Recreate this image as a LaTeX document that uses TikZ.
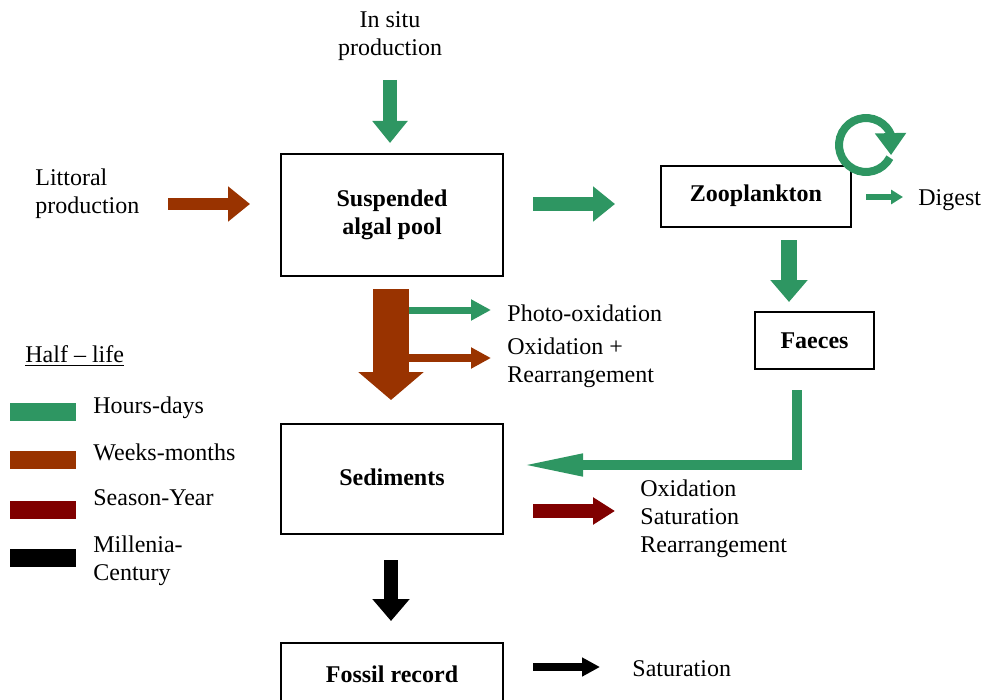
\documentclass[tikz,border=0pt]{standalone}
\usepackage{fontspec}
\setmainfont{Liberation Serif}
\usetikzlibrary{arrows.meta,bending}
\definecolor{hours}{RGB}{46,150,98}
\definecolor{weeks}{RGB}{153,51,0}
\definecolor{season}{RGB}{128,0,0}
\definecolor{millenia}{RGB}{0,0,0}
\tikzstyle{every node}=[font=\fontsize{12}{14}\selectfont]
\tikzstyle{txt}=[inner sep=0pt, align=left, anchor=west]
\tikzstyle{stage}=[draw, line width=0.75pt, inner sep=0pt, align=center, font=\fontsize{12}{14}\selectfont\bfseries]
\tikzstyle{swatch}=[inner sep=0pt, minimum width=33pt, minimum height=9pt]
\tikzset{
    flow/.style={line width=7pt, -{Triangle[width=17pt,length=11pt]}},
    thin flow/.style={line width=3.5pt, -{Triangle[width=10pt,length=10pt]}}
}

\begin{document}
\begin{tikzpicture}[x=0.5pt, y=-0.5pt]
            \useasboundingbox (0,0) rectangle (984,700);

            \node[align=center, inner sep=0pt] (insitu) at (390,36) {In situ\\production};
            \node[txt] (littoral) at (35,194) {Littoral\\production};

            \node[stage, minimum width=111pt, minimum height=61pt] (pool) at (392,215) {Suspended\\algal pool};
            \node[stage, minimum width=95pt, minimum height=30.5pt] (zoo) at (756,196.5) {\raisebox{3pt}{Zooplankton}};
            \node[txt] (digest) at (918,200) {Digest};
            \node[stage, minimum width=59.5pt, minimum height=28.5pt] (faeces) at (814.5,340.5) {Faeces};

            \node[txt] (photo) at (507,313) {Photo-oxidation};
            \node[txt] (oxid) at (507,363) {Oxidation +\\Rearrangement};

            \node[stage, minimum width=111pt, minimum height=55pt] (sed) at (392,479) {\raisebox{2pt}{Sediments}};
            \node[txt] (sedout) at (640,519) {Oxidation\\Saturation\\Rearrangement};

            \node[stage, minimum width=111pt, minimum height=31pt] (fossil) at (392,674) {Fossil record};
            \node[txt] (fossilout) at (632,669) {Saturation};

            \coordinate (insitu-a) at (390,80);
            \coordinate (insitu-b) at (390,143);
            \coordinate (littoral-a) at (168,204);
            \coordinate (littoral-b) at (250,204);
            \coordinate (pool-a) at (533,204);
            \coordinate (pool-b) at (615,204);
            \coordinate (loop) at (866,145);
            \coordinate (digest-a) at (866,197);
            \coordinate (digest-b) at (903,197);
            \coordinate (zoo-a) at (789,240);
            \coordinate (zoo-b) at (789,302);
            \coordinate (sink-a) at (391,289);
            \coordinate (sink-b) at (391,400);
            \coordinate (photo-a) at (409,310);
            \coordinate (photo-b) at (491,310);
            \coordinate (oxid-a) at (409,358);
            \coordinate (oxid-b) at (491,358);
            \coordinate (faeces-a) at (797,390);
            \coordinate (sed-in) at (519,465);
            \coordinate (sed-a) at (533,511);
            \coordinate (sed-b) at (615,511);
            \coordinate (bury-a) at (391,560);
            \coordinate (bury-b) at (391,621);
            \coordinate (fossil-a) at (533,667);
            \coordinate (fossil-b) at (600,667);

            \draw[hours, flow] (insitu-a) -- (insitu-b);
            \draw[weeks, flow, line width=6pt] (littoral-a) -- (littoral-b);
            \draw[hours, flow] (pool-a) -- (pool-b);
            \begin{scope}[shift={(loop)}, x=1pt, y=1pt]
                \draw[hours, line width=4pt, -{Triangle[width=15pt,length=11pt,flex]}]
                    (-28:13.5) arc[start angle=-28, end angle=-382, radius=13.5];
            \end{scope}
            \draw[hours, thin flow, line width=3pt, -{Triangle[width=7pt,length=6pt]}] (digest-a) -- (digest-b);
            \draw[hours, flow, line width=8pt, -{Triangle[width=18pt,length=11pt]}] (zoo-a) -- (zoo-b);

            \draw[weeks, line width=18pt, -{Triangle[width=32pt,length=14pt]}] (sink-a) -- (sink-b);
            \draw[hours, thin flow] (photo-a) -- (photo-b);
            \draw[weeks, thin flow, line width=4pt] (oxid-a) -- (oxid-b);

            \draw[hours, line width=5pt, -{Triangle[width=10pt,length=32pt]}] (faeces-a) |- (sed-in);
            \draw[season, flow, -{Triangle[width=13pt,length=11pt]}] (sed-a) -- (sed-b);
            \draw[millenia, flow, -{Triangle[width=18pt,length=11pt]}] (bury-a) -- (bury-b);
            \draw[millenia, thin flow, line width=4pt, -{Triangle[width=9pt,length=9pt]}] (fossil-a) -- (fossil-b);

            \node[txt] (halflife) at (25,356) {\underline{Half – life}};
            \node[swatch, fill=hours] (sw-hours) at (43,412) {};
            \node[swatch, fill=weeks] (sw-weeks) at (43,460) {};
            \node[swatch, fill=season] (sw-season) at (43,510) {};
            \node[swatch, fill=millenia] (sw-millenia) at (43,558) {};
            \node[txt] (lg-hours) at (93,408) {Hours-days};
            \node[txt] (lg-weeks) at (93,452) {Weeks-months};
            \node[txt] (lg-season) at (93,498) {Season-Year};
            \node[txt] (lg-millenia) at (93,561) {Millenia-\\Century};
        \end{tikzpicture}
\end{document}
